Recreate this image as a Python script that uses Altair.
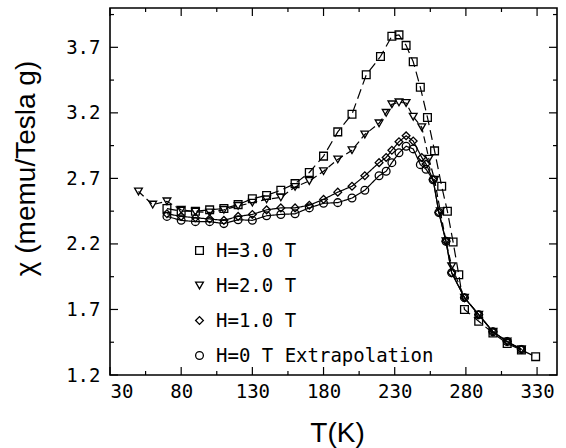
import altair as alt
import pandas as pd

series_names = ["H=3.0 T", "H=2.0 T", "H=1.0 T", "H=0 T Extrapolation"]
dash_keys = ["d3", "d2", "d1", "d0"]

h3_T = [70, 80, 90, 100, 110, 120, 130, 140, 150, 160, 170, 180, 190, 200, 210, 220, 228, 233, 238, 243, 248, 253, 258, 263, 267, 271, 275, 279, 289, 299, 309, 319, 329]
h3_chi = [2.47, 2.45, 2.45, 2.46, 2.47, 2.50, 2.545, 2.57, 2.61, 2.66, 2.745, 2.87, 3.055, 3.19, 3.49, 3.63, 3.785, 3.795, 3.715, 3.59, 3.395, 3.165, 2.91, 2.64, 2.45, 2.215, 1.965, 1.70, 1.61, 1.52, 1.44, 1.39, 1.34]

h2_T = [50, 60, 70, 80, 90, 100, 110, 120, 130, 140, 150, 160, 170, 180, 190, 200, 209, 219, 224, 228, 233, 238, 243, 249, 254, 258, 262, 266, 270, 279, 289, 299, 309, 319]
h2_chi = [2.60, 2.50, 2.525, 2.46, 2.445, 2.44, 2.46, 2.49, 2.515, 2.54, 2.555, 2.635, 2.68, 2.755, 2.845, 2.915, 3.035, 3.12, 3.20, 3.265, 3.28, 3.275, 3.17, 3.09, 2.85, 2.69, 2.45, 2.22, 2.03, 1.79, 1.66, 1.53, 1.455, 1.395]

h1_T = [70, 80, 90, 100, 110, 120, 130, 140, 150, 160, 170, 180, 190, 200, 209, 219, 224, 228, 233, 238, 243, 249, 252, 257, 261, 266, 270, 279, 289, 299, 309, 319]
h1_chi = [2.43, 2.41, 2.40, 2.39, 2.38, 2.41, 2.425, 2.46, 2.475, 2.475, 2.495, 2.54, 2.595, 2.64, 2.72, 2.82, 2.86, 2.915, 2.98, 3.025, 2.985, 2.86, 2.81, 2.69, 2.44, 2.22, 1.98, 1.79, 1.66, 1.53, 1.455, 1.395]

h0_T = [70, 80, 90, 100, 110, 120, 130, 140, 150, 160, 170, 180, 190, 200, 209, 219, 224, 228, 233, 238, 243, 248, 252, 257, 261, 266, 270, 279, 289, 299, 309, 319]
h0_chi = [2.41, 2.38, 2.37, 2.37, 2.355, 2.385, 2.38, 2.415, 2.425, 2.43, 2.475, 2.51, 2.515, 2.55, 2.61, 2.72, 2.755, 2.82, 2.895, 2.945, 2.925, 2.805, 2.77, 2.69, 2.44, 2.22, 1.98, 1.79, 1.66, 1.53, 1.455, 1.395]

x_major = [30, 80, 130, 180, 230, 280, 330]
x_minor = [55, 105, 155, 205, 255, 305]
y_major = [1.2, 1.7, 2.2, 2.7, 3.2, 3.7]
y_minor = [1.45, 1.95, 2.45, 2.95, 3.45, 3.95]

rows = []
for name, dk, Ts, cs in zip(series_names, dash_keys, [h3_T, h2_T, h1_T, h0_T], [h3_chi, h2_chi, h1_chi, h0_chi]):
    for t, c in zip(Ts, cs):
        rows.append({"T": t, "chi": c, "series": name, "dash": dk})
df = pd.DataFrame(rows)

W, H = 447, 367
xscale = alt.Scale(domain=[30, 344], nice=False, zero=False)
yscale = alt.Scale(domain=[1.2, 4.0], nice=False, zero=False)

x_axis = alt.Axis(
    values=x_major, format="d", ticks=False, domain=False, grid=False, labelOverlap=False,
    labelFont="DejaVu Sans Mono", labelFontSize=19, labelColor="black", labelPadding=7,
    title="T(K)", titleFont="Liberation Sans", titleFontSize=28, titleFontWeight="normal",
    titleColor="black", titleX=227, titleY=66, titleBaseline="alphabetic")
y_axis = alt.Axis(
    values=y_major, format=".1f", ticks=False, domain=False, grid=False, labelOverlap=False,
    labelFont="DejaVu Sans Mono", labelFontSize=19, labelColor="black", labelPadding=10,
    title="χ (memu/Tesla g)", titleFont="Liberation Sans", titleFontSize=28, titleFontWeight="normal",
    titleColor="black", titleX=-84, titleY=160, titleAngle=270, titleAlign="center",
    titleBaseline="middle")

lines = alt.Chart(df).mark_line(color="black", strokeWidth=1.2).encode(
    x=alt.X("T:Q", scale=xscale, axis=x_axis),
    y=alt.Y("chi:Q", scale=yscale, axis=y_axis),
    detail="series:N",
    strokeDash=alt.StrokeDash("dash:N", scale=alt.Scale(domain=dash_keys,
        range=[[10, 5], [7, 4], [1, 0], [1, 0]]), legend=None),
    order="T:Q",
)

legend = alt.Legend(title=None, orient="none", legendX=80, legendY=233,
    labelFont="DejaVu Sans Mono", labelFontSize=19, labelColor="black", labelLimit=0,
    symbolStrokeColor="black", symbolFillColor="transparent",
    symbolSize=60, rowPadding=15, labelOffset=7, padding=0)

points = alt.Chart(df).mark_point(filled=False, color="black", size=60, opacity=1).encode(
    x=alt.X("T:Q", scale=xscale, axis=x_axis),
    y=alt.Y("chi:Q", scale=yscale, axis=y_axis),
    shape=alt.Shape("series:N", scale=alt.Scale(domain=series_names,
        range=["square", "triangle-down", "diamond", "circle"]), legend=legend),
    strokeWidth=alt.StrokeWidth("series:N", scale=alt.Scale(domain=series_names,
        range=[1.3, 1.3, 2.3, 1.3]), legend=legend),
)

xmaj = pd.DataFrame({"T": x_major})
xmin = pd.DataFrame({"T": x_minor})
ymaj = pd.DataFrame({"chi": y_major})
ymin = pd.DataFrame({"chi": y_minor})

def xticks(d, L):
    b = alt.Chart(d).mark_rule(color="black", strokeWidth=1.2).encode(
        x=alt.X("T:Q", scale=xscale, axis=x_axis), y=alt.value(H), y2=alt.value(H - L))
    t = alt.Chart(d).mark_rule(color="black", strokeWidth=1.2).encode(
        x=alt.X("T:Q", scale=xscale, axis=x_axis), y=alt.value(0), y2=alt.value(L))
    return [b, t]

def yticks(d, L):
    l = alt.Chart(d).mark_rule(color="black", strokeWidth=1.2).encode(
        y=alt.Y("chi:Q", scale=yscale, axis=y_axis), x=alt.value(0), x2=alt.value(L))
    r = alt.Chart(d).mark_rule(color="black", strokeWidth=1.2).encode(
        y=alt.Y("chi:Q", scale=yscale, axis=y_axis), x=alt.value(W), x2=alt.value(W - L))
    return [l, r]

layers = [lines, points] + xticks(xmaj, 8) + xticks(xmin, 4) + yticks(ymaj, 8) + yticks(ymin, 4)

chart = alt.layer(*layers).properties(
    width=W, height=H,
    autosize=alt.AutoSizeParams(type="none"),
    padding={"left": 110, "top": 8, "right": 9, "bottom": 73},
    background="white",
).configure_view(stroke="black", strokeWidth=1.6)

chart.save("out.html", embed_options={"renderer": "svg", "actions": False})
